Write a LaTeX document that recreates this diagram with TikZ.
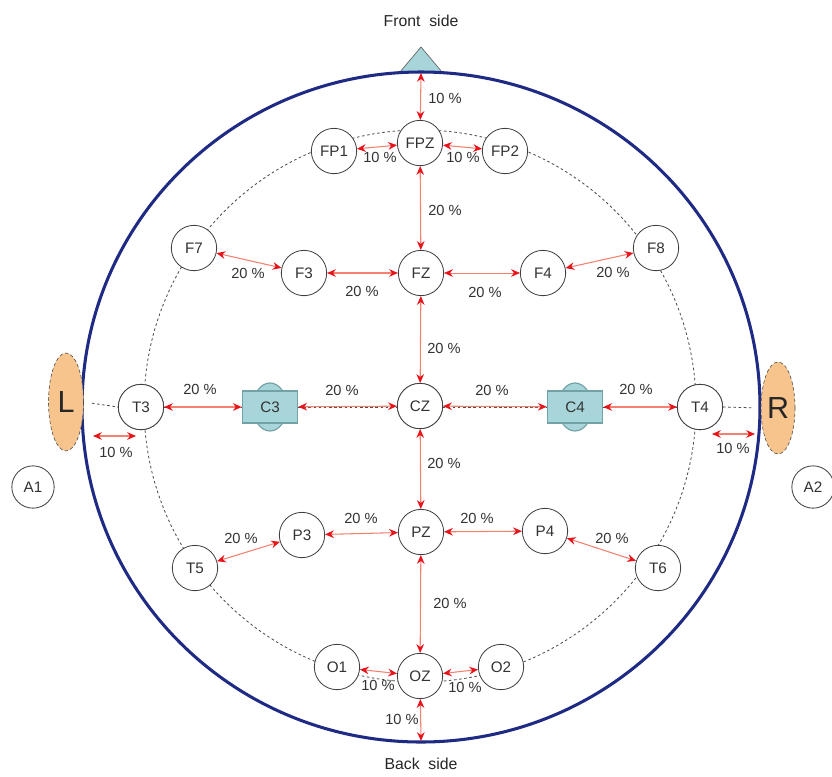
\documentclass[tikz,border=0pt]{standalone}
\usepackage{fontspec}
\setmainfont{Liberation Sans}
\usetikzlibrary{arrows.meta,shapes.geometric}
\definecolor{headblue}{HTML}{1E2A84}
\definecolor{cyanfill}{HTML}{A8D5D9}
\definecolor{cyanline}{HTML}{72A2A6}
\definecolor{earfill}{HTML}{F6C48C}
\definecolor{salmon}{HTML}{F2826E}
\definecolor{redtip}{HTML}{E8141C}
\definecolor{txt}{HTML}{333333}
\tikzset{
  elec/.style={circle,draw=black!75,line width=0.7pt,fill=white,minimum size=1.36cm,inner sep=0pt,
    font=\fontsize{13}{15}\selectfont,text=txt},
  cbox/.style={rectangle,draw=cyanline,line width=1.3pt,fill=cyanfill,minimum width=1.65cm,minimum height=0.96cm,
    inner sep=0pt,font=\fontsize{13}{15}\selectfont,text=txt},
  cback/.style={draw=cyanline,line width=1pt,fill=cyanfill},
  ear/.style={ellipse,draw=black!70,line width=0.5pt,densely dashed,fill=earfill,inner sep=0pt,
    font=\fontsize{26}{28}\selectfont,text=black!85},
  mes/.style={draw=salmon,line width=0.9pt,>={Stealth[length=7.5pt,width=6.5pt,color=redtip]},<->},
  lab/.style={font=\fontsize{12.5}{14}\selectfont,text=txt,inner sep=0pt},
  ttl/.style={font=\fontsize{13.5}{15}\selectfont,text=black!85,inner sep=0pt},
  gridline/.style={draw=black!70,line width=0.7pt,dash pattern=on 2.2pt off 2.2pt}
}
\begin{document}
\begin{tikzpicture}[x=0.03cm,y=-0.03cm]
\useasboundingbox[fill=white] (0,0) rectangle (832,776);
% nose
\draw[fill=cyanfill,draw=black!60,line width=0.6pt] (400,72) -- (421,47) -- (442,72) -- cycle;
% head
\draw[headblue,line width=2.6pt] (421,407) ellipse [x radius=339,y radius=335];
\coordinate (top) at (421,73);
\coordinate (bot) at (421,741);
% dashed circle
\draw[gridline] (420,406) circle [radius=276];
% titles
\node[ttl] (front) at (421,21) {Front\ \ side};
\node[ttl] (back) at (421,764) {Back\ \ side};
% C3/C4 backgrounds
\draw[cback] (270,407) ellipse [x radius=17,y radius=24];
\draw[cback] (575,407) ellipse [x radius=17,y radius=24];
% ears
\node[ear,minimum width=1.05cm,minimum height=2.94cm] (Lear) at (66,402) {L};
\node[ear,minimum width=1.02cm,minimum height=2.76cm] (Rear) at (778,408) {R};
% electrodes
\node[elec] (FP1) at (334,151) {FP1};
\node[elec] (FPZ) at (420,143) {FPZ};
\node[elec] (FP2) at (505,151) {FP2};
\node[elec] (F7) at (194,248) {F7};
\node[elec] (F3) at (304,273) {F3};
\node[elec] (FZ) at (421,273) {FZ};
\node[elec] (F4) at (543,273) {F4};
\node[elec] (F8) at (656,248) {F8};
\node[elec] (T3) at (141,407) {T3};
\node[elec] (CZ) at (420,406) {CZ};
\node[elec] (T4) at (700,407) {T4};
\node[elec] (T5) at (195,568) {T5};
\node[elec] (P3) at (302,535) {P3};
\node[elec] (PZ) at (421,532) {PZ};
\node[elec] (P4) at (545,531) {P4};
\node[elec] (T6) at (658,568) {T6};
\node[elec] (O1) at (337,667) {O1};
\node[elec] (OZ) at (420,676) {OZ};
\node[elec] (O2) at (501,667) {O2};
\node[elec,minimum size=1.27cm] (A1) at (33,487) {A1};
\node[elec,minimum size=1.27cm] (A2) at (813,487) {A2};
% horizontal grid line
\draw[gridline] (T3.east) -- (T4.west);
\node[cbox] (C3) at (270,407) {C3};
\node[cbox] (C4) at (575,407) {C4};
\draw[gridline,shorten <=7pt] (Lear.east) -- (T3.west);
\draw[gridline,shorten >=7pt] (T4.east) -- (Rear.west);
% redraw electrodes on the line
\node[elec] at (T3) {T3};
\node[elec] at (CZ) {CZ};
\node[elec] at (T4) {T4};
% measurements
\draw[mes] (top) -- (FPZ);
\node[lab] (l1) at (445,98) {10 \%};
\draw[mes] (FP1) -- (FPZ);
\node[lab] (l2) at (380,157) {10 \%};
\draw[mes] (FPZ) -- (FP2);
\node[lab] (l3) at (463,157) {10 \%};
\draw[mes] (FPZ) -- (FZ);
\node[lab] (l4) at (445,210) {20 \%};
\draw[mes] (F7) -- (F3);
\node[lab] (l5) at (248,273) {20 \%};
\draw[mes] (F3) -- (FZ);
\node[lab] (l6) at (362,291) {20 \%};
\draw[mes,line width=0.5pt] (FZ) -- (F4);
\node[lab] (l7) at (485,292) {20 \%};
\draw[mes] (F4) -- (F8);
\node[lab] (l8) at (613,272) {20 \%};
\draw[mes] (FZ) -- (CZ);
\node[lab] (l9) at (444,348) {20 \%};
\draw[mes] (T3) -- (C3);
\node[lab] (l10) at (200,389) {20 \%};
\draw[mes] (C3) -- (CZ);
\node[lab] (l11) at (342,390) {20 \%};
\draw[mes] (CZ) -- (C4);
\node[lab] (l12) at (492,390) {20 \%};
\draw[mes] (C4) -- (T4);
\node[lab] (l13) at (636,389) {20 \%};
\coordinate (le1) at (93,436);
\coordinate (le2) at (136,436);
\draw[mes] (le1) -- (le2);
\node[lab] (l14) at (116,452) {10 \%};
\coordinate (re1) at (712,434);
\coordinate (re2) at (755,434);
\draw[mes] (re1) -- (re2);
\node[lab] (l15) at (733,448) {10 \%};
\draw[mes] (CZ) -- (PZ);
\node[lab] (l16) at (444,463) {20 \%};
\draw[mes] (T5) -- (P3);
\node[lab] (l17) at (241,538) {20 \%};
\draw[mes] (P3) -- (PZ);
\node[lab] (l18) at (361,518) {20 \%};
\draw[mes] (PZ) -- (P4);
\node[lab] (l19) at (477,518) {20 \%};
\draw[mes] (P4) -- (T6);
\node[lab] (l20) at (612,538) {20 \%};
\draw[mes] (PZ) -- (OZ);
\node[lab] (l21) at (450,603) {20 \%};
\draw[mes] (O1) -- (OZ);
\node[lab] (l22) at (378,685) {10 \%};
\draw[mes] (OZ) -- (O2);
\node[lab] (l23) at (465,687) {10 \%};
\draw[mes] (OZ) -- (bot);
\node[lab] (l24) at (402,719) {10 \%};
\end{tikzpicture}
\end{document}
